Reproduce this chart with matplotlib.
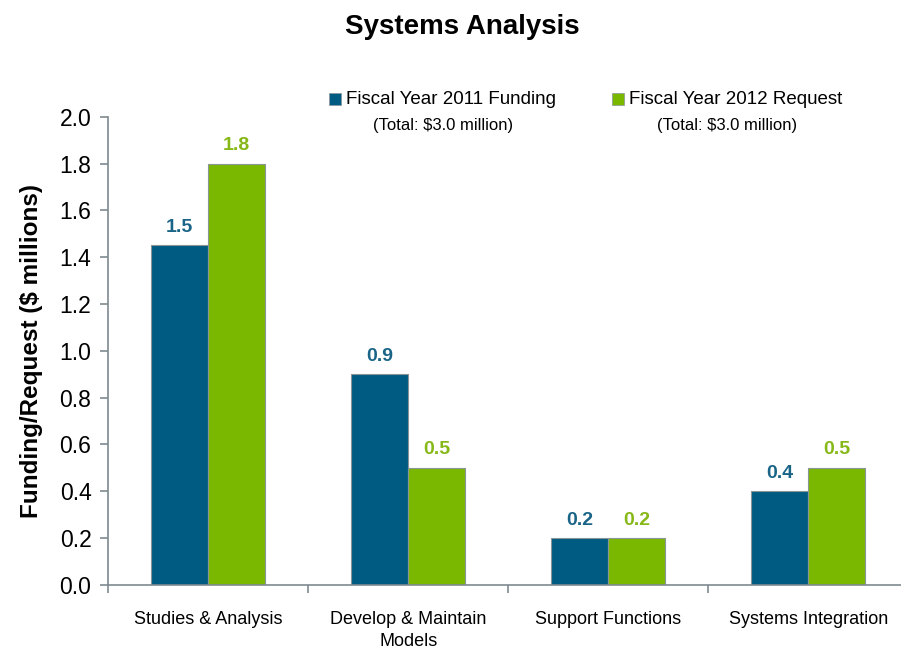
import matplotlib
matplotlib.use("Agg")
import matplotlib.pyplot as plt
import numpy as np
from matplotlib.patches import Rectangle

# данные
categories = ["Studies & Analysis", "Develop & Maintain\nModels",
              "Support Functions", "Systems Integration"]
fy2011 = [1.45, 0.9, 0.2, 0.4]
fy2012 = [1.8, 0.5, 0.2, 0.5]
fy2011_labels = ["1.5", "0.9", "0.2", "0.4"]
fy2012_labels = ["1.8", "0.5", "0.2", "0.5"]
series_names = ["Fiscal Year 2011 Funding", "Fiscal Year 2012 Request"]
series_totals = ["(Total: $3.0 million)", "(Total: $3.0 million)"]
y_ticks = [0.0, 0.2, 0.4, 0.6, 0.8, 1.0, 1.2, 1.4, 1.6, 1.8, 2.0]

BLUE = "#005B82"
GREEN = "#7AB800"
BLUE_TXT = "#1A6587"
GREEN_TXT = "#86B817"
SPINE = "#7F8A90"

fam = ["Liberation Sans", "DejaVu Sans"]

fig = plt.figure(figsize=(9.01, 6.52), dpi=100)
ax = fig.add_axes([0.12, 0.103, 0.888, 0.718])

x = np.arange(len(categories))
w = 0.285
ax.bar(x - w / 2, fy2011, w, color=BLUE, edgecolor="#8A9499", linewidth=0.8)
ax.bar(x + w / 2, fy2012, w, color=GREEN, edgecolor="#8A9499", linewidth=0.8)

for i in range(len(categories)):
    ax.text(x[i] - w / 2, fy2011[i] + 0.04, fy2011_labels[i], ha="center",
            va="bottom", fontsize=14, fontweight="bold", color=BLUE_TXT,
            family=fam)
    ax.text(x[i] + w / 2, fy2012[i] + 0.04, fy2012_labels[i], ha="center",
            va="bottom", fontsize=14, fontweight="bold", color=GREEN_TXT,
            family=fam)

ax.set_xlim(-0.5, len(categories) - 0.5)
ax.set_ylim(0, 2.0)
ax.set_yticks(y_ticks)
ax.set_yticklabels([f"{v:.1f}" for v in y_ticks], family=fam, fontsize=16.5)

# подписи категорий через minor ticks, major ticks на границах
ax.set_xticks(np.arange(len(categories) + 1) - 0.5)
ax.set_xticklabels([])
ax.set_xticks(x, minor=True)
ax.set_xticklabels(categories, minor=True, family=fam, fontsize=13,
                   linespacing=1.35)
ax.tick_params(axis="x", which="minor", length=0, pad=19)
ax.tick_params(axis="x", which="major", length=6, color=SPINE, width=1.2)
ax.tick_params(axis="y", length=6, color=SPINE, width=1.2, pad=6)

for s in ["top", "right"]:
    ax.spines[s].set_visible(False)
for s in ["left", "bottom"]:
    ax.spines[s].set_color(SPINE)
    ax.spines[s].set_linewidth(1.2)

ax.set_ylabel("Funding/Request ($ millions)", fontsize=17.5, fontweight="bold",
              family=fam, labelpad=12)

fig.text(0.513, 0.959, "Systems Analysis", ha="center", va="center",
         fontsize=20, fontweight="bold", family=fam)

# легенда вручную
leg_x = [0.365, 0.679]
tot_x = [0.492, 0.807]
colors = [BLUE, GREEN]
for i in range(2):
    fig.patches.append(Rectangle((leg_x[i], 0.839), 0.0135, 0.0185,
                                 transform=fig.transFigure, facecolor=colors[i],
                                 edgecolor="#8A9499", linewidth=0.5))
    fig.text(leg_x[i] + 0.019, 0.847, series_names[i], ha="left", va="center",
             fontsize=13.5, family=fam)
    fig.text(tot_x[i], 0.807, series_totals[i], ha="center", va="center",
             fontsize=12, family=fam)

fig.savefig("out.png", dpi=100)
